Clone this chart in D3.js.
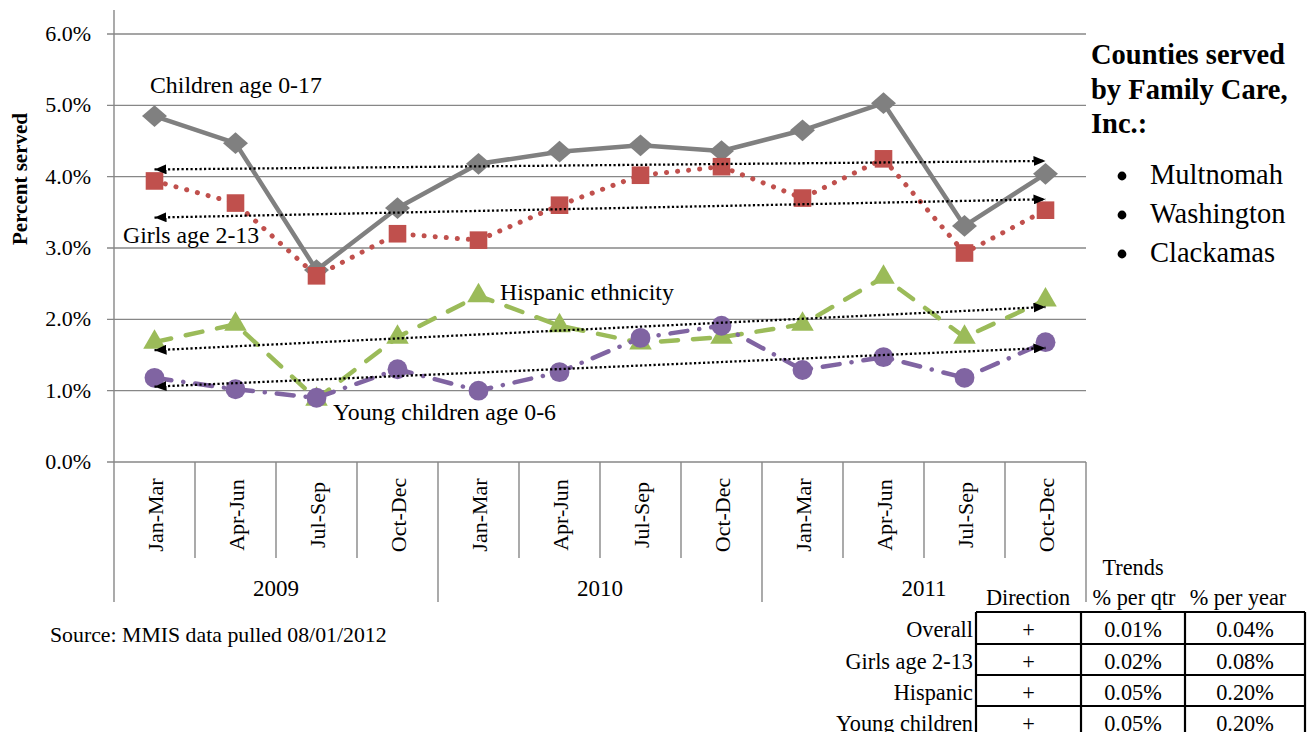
<!DOCTYPE html>
<html><head><meta charset="utf-8">
<script src="https://cdn.jsdelivr.net/npm/d3@7"></script>
<style>
html,body{margin:0;padding:0;background:#fff;}
svg{display:block;font-family:"Liberation Serif","Times New Roman",serif;}
</style></head>
<body><svg id="c" width="1311" height="732"></svg>
<script>
const quarters = ["Jan-Mar","Apr-Jun","Jul-Sep","Oct-Dec","Jan-Mar","Apr-Jun","Jul-Sep","Oct-Dec","Jan-Mar","Apr-Jun","Jul-Sep","Oct-Dec"];
const years = ["2009","2010","2011"];
const yTicks = [0,1,2,3,4,5,6];
const children = [4.85,4.47,2.69,3.56,4.18,4.35,4.44,4.36,4.65,5.03,3.31,4.04];
const girls    = [3.94,3.63,2.61,3.20,3.11,3.60,4.02,4.14,3.70,4.25,2.93,3.53];
const hispanic = [1.68,1.93,0.88,1.75,2.33,1.91,1.67,1.75,1.93,2.59,1.75,2.27];
const young    = [1.18,1.02,0.90,1.30,1.00,1.26,1.74,1.91,1.29,1.47,1.18,1.68];
const seriesNames = ["Children age 0-17","Girls age 2-13","Hispanic ethnicity","Young children age 0-6"];
const counties = ["Multnomah","Washington","Clackamas"];
const tableRowLabels = ["Overall","Girls age 2-13","Hispanic","Young children"];
const tableDirection = ["+","+","+","+"];
const tablePerQtr = ["0.01%","0.02%","0.05%","0.05%"];
const tablePerYear = ["0.04%","0.08%","0.20%","0.20%"];

(function(){
const svg = d3.select("#c");
const pL = 114, pR = 1086, pT = 34, pB = 462;
const idx = d3.range(quarters.length);
const x = d3.scaleBand().domain(idx).range([pL, pR]).padding(0);
const cx = i => x(i) + x.bandwidth()/2;
const y = d3.scaleLinear().domain([0,6]).range([pB, pT]);
const grid = "#878787";

// gridlines
svg.append("g").selectAll("line").data(yTicks).join("line")
  .attr("x1", pL-7).attr("x2", pR).attr("y1", d=>y(d)).attr("y2", d=>y(d))
  .attr("stroke", grid).attr("stroke-width", 1.4);
// y axis line
svg.append("line").attr("x1",pL).attr("x2",pL).attr("y1",10).attr("y2",602)
  .attr("stroke",grid).attr("stroke-width",1.4);
// y tick labels
svg.append("g").selectAll("text").data(yTicks).join("text")
  .attr("x", 91).attr("y", d=>y(d)+7).attr("text-anchor","end")
  .attr("font-size",22).text(d=>d3.format(".1f")(d)+"%");
// y title
svg.append("text").attr("transform","translate(27,179) rotate(-90)")
  .attr("text-anchor","middle").attr("font-size",21).attr("font-weight","bold").text("Percent served");

// category ticks
svg.append("g").selectAll("line").data(d3.range(1, quarters.length)).join("line")
  .attr("x1", d=>x(d)).attr("x2", d=>x(d)).attr("y1", pB).attr("y2", d => d%4===0 ? 602 : 558)
  .attr("stroke", grid).attr("stroke-width", 1.4);
svg.append("line").attr("x1",pR).attr("x2",pR).attr("y1",pB).attr("y2",602)
  .attr("stroke",grid).attr("stroke-width",1.4);
// category labels
svg.append("g").selectAll("text").data(idx).join("text")
  .attr("transform", i => `translate(${cx(i)+8},515) rotate(-90)`)
  .attr("text-anchor","middle").attr("font-size",22).text(i=>quarters[i]);
// year labels
svg.append("g").selectAll("text").data(years).join("text")
  .attr("x",(d,j)=> (x(j*4) + x(j*4+3)+x.bandwidth())/2).attr("y",596)
  .attr("text-anchor","middle").attr("font-size",23).text(d=>d);

// series
const line = d3.line().x((d,i)=>cx(i)).y(d=>y(d));
const series = [
  {v:children, color:"#808080", dash:null, marker:"diamond"},
  {v:girls, color:"#C0504D", dash:"0.1,11", marker:"square"},
  {v:hispanic, color:"#9BBB59", dash:"17,15", marker:"triangle"},
  {v:young, color:"#8064A2", dash:"17,12,0.1,12", marker:"circle"}
];
const symTypes = {diamond:d3.symbolDiamond2, square:d3.symbolSquare, triangle:d3.symbolTriangle, circle:d3.symbolCircle};
const symSize = {diamond:300, square:310, triangle:220, circle:310};
series.forEach(s=>{
  const g = svg.append("g");
  g.append("path").attr("d", line(s.v)).attr("fill","none").attr("stroke",s.color)
    .attr("stroke-width", s.marker==="square"?5:4.5)
    .attr("stroke-linecap", s.dash ? "round" : "butt").attr("stroke-linejoin","round")
    .attr("stroke-dasharray", s.dash);
  g.selectAll("path.m").data(s.v).join("path").attr("class","m")
    .attr("transform",(d,i)=>`translate(${cx(i)},${y(d)})` + (s.marker==="diamond"?" scale(1.15,1)":""))
    .attr("d", d3.symbol().type(symTypes[s.marker]).size(symSize[s.marker]))
    .attr("fill", s.color);
});

// trend lines (least squares, as in the spreadsheet)
svg.append("defs").html(`
 <marker id="aS" viewBox="0 0 12 10" refX="0" refY="5" markerWidth="12" markerHeight="10" markerUnits="userSpaceOnUse" orient="auto"><path d="M12,0 L0,5 L12,10 Z" fill="#000"/></marker>
 <marker id="aE" viewBox="0 0 12 10" refX="12" refY="5" markerWidth="12" markerHeight="10" markerUnits="userSpaceOnUse" orient="auto"><path d="M0,0 L12,5 L0,10 Z" fill="#000"/></marker>`);
function fit(v){
  const n=v.length, mx=(n-1)/2, my=d3.mean(v);
  let sxy=0,sxx=0; v.forEach((d,i)=>{sxy+=(i-mx)*(d-my); sxx+=(i-mx)*(i-mx);});
  const b=sxy/sxx; return [my-b*mx, my+b*(n-1-mx)];
}
series.forEach(s=>{
  const [a,b]=fit(s.v), n=s.v.length;
  svg.append("line").attr("x1",cx(0)).attr("y1",y(a)).attr("x2",cx(n-1)).attr("y2",y(b))
    .attr("stroke","#000").attr("stroke-width",2.3).attr("stroke-dasharray","2.2,2.3")
    .attr("marker-start","url(#aS)").attr("marker-end","url(#aE)");
});

// series labels
const labelPos = [[150,93],[123,243],[500,300],[333,420]];
svg.append("g").selectAll("text").data(seriesNames).join("text")
  .attr("x",(d,i)=>labelPos[i][0]).attr("y",(d,i)=>labelPos[i][1]).attr("font-size",23.8).text(d=>d);

// right text
const rt = svg.append("g");
["Counties served","by Family Care,","Inc.:"].forEach((t,i)=>{
  rt.append("text").attr("x",1091).attr("y",64+i*34.5).attr("font-size",28.5).attr("font-weight","bold").text(t);
});
counties.forEach((c,i)=>{
  rt.append("circle").attr("cx",1122).attr("cy",176+i*39).attr("r",4.4).attr("fill","#000");
  rt.append("text").attr("x",1150).attr("y",184+i*39).attr("font-size",28.5).text(c);
});

// source
svg.append("text").attr("x",50).attr("y",642).attr("font-size",21.8).text("Source: MMIS data pulled 08/01/2012");

// table
const colX = [976,1081,1185,1305];
const rowY = [612,644,675,706,737];
const tg = svg.append("g");
const tfs = 22.3;
tg.append("text").attr("x",1133).attr("y",575).attr("text-anchor","middle").attr("font-size",tfs).text("Trends");
[["Direction",1028],["% per qtr",1134],["% per year",1238]].forEach(h=>{
  tg.append("text").attr("x",h[1]).attr("y",605).attr("text-anchor","middle").attr("font-size",tfs).text(h[0]);
});
rowY.forEach(r=>tg.append("line").attr("x1",colX[0]).attr("x2",colX[3]).attr("y1",r).attr("y2",r).attr("stroke","#000").attr("stroke-width",2.2));
colX.forEach(c=>tg.append("line").attr("x1",c).attr("x2",c).attr("y1",rowY[0]).attr("y2",rowY[4]).attr("stroke","#000").attr("stroke-width",2.2));
tableRowLabels.forEach((l,i)=>{
  const by = rowY[i]+25;
  tg.append("text").attr("x",973).attr("y",by).attr("text-anchor","end").attr("font-size",tfs).text(l);
  tg.append("text").attr("x",(colX[0]+colX[1])/2).attr("y",by).attr("text-anchor","middle").attr("font-size",tfs).text(tableDirection[i]);
  tg.append("text").attr("x",(colX[1]+colX[2])/2).attr("y",by).attr("text-anchor","middle").attr("font-size",tfs).text(tablePerQtr[i]);
  tg.append("text").attr("x",(colX[2]+colX[3])/2).attr("y",by).attr("text-anchor","middle").attr("font-size",tfs).text(tablePerYear[i]);
});
})();
</script></body></html>
